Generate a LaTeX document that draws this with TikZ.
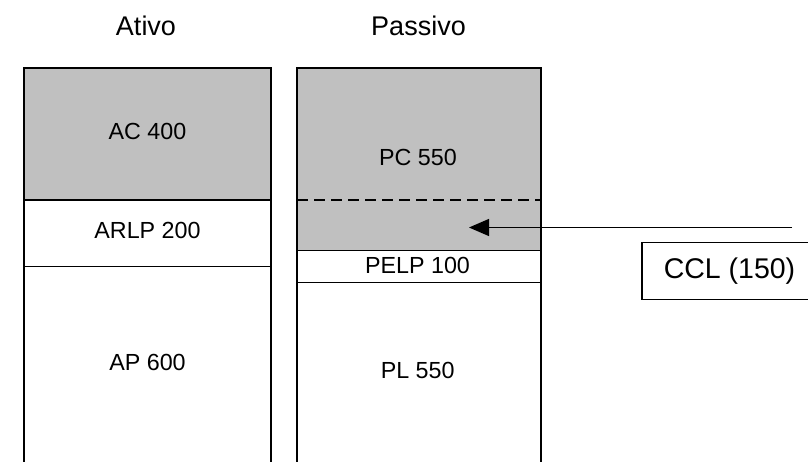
\documentclass[tikz,border=0pt]{standalone}
\usepackage{fontspec}
\setmainfont{Liberation Sans}
\usetikzlibrary{arrows.meta}
\definecolor{blockgrey}{HTML}{C0C0C0}
\begin{document}
\begin{tikzpicture}[x=1pt,y=-1pt,
  thin edge/.style={line width=1.3pt},
  lbl/.style={font=\fontsize{23.3}{28}\selectfont, inner sep=0pt, text=black, anchor=base},
  head/.style={font=\fontsize{27}{32}\selectfont, inner sep=0pt, text=black, anchor=base},
  big lbl/.style={font=\fontsize{28.5}{34}\selectfont, inner sep=0pt, text=black, anchor=base},
  sep line/.style={line width=1.3pt, dash pattern=on 11pt off 6pt},
  flow/.style={line width=1.2pt, -{Triangle[length=20pt,width=17pt]}}]
\useasboundingbox (0,0) rectangle (808,462);

% Ativo column
\fill[blockgrey] (24,68) rectangle (271,200);
\draw[thin edge] (24,462) -- (24,68) -- (271,68) -- (271,462);
\draw[thin edge] (24,200) -- (271,200);
\draw[thin edge] (24,266.7) -- (271,266.7);

% Passivo column
\fill[blockgrey] (297,68) rectangle (541,250.7);
\draw[thin edge] (297,462) -- (297,68) -- (541,68) -- (541,462);
\draw[sep line] (297,200) -- (541,200);
\draw[thin edge] (297,250.7) -- (541,250.7);
\draw[thin edge] (297,282.3) -- (541,282.3);

% Column headings (positions are baselines)
\node[head] (ativo) at (146,36) {Ativo};
\node[head] (passivo) at (418.5,36) {Passivo};

% Block labels
\node[lbl] (ac) at (147.5,140) {AC 400};
\node[lbl] (arlp) at (147.5,239) {ARLP 200};
\node[lbl] (ap) at (147.5,370) {AP 600};
\node[lbl] (pc) at (418,166) {PC 550};
\node[lbl] (pelp) at (417.5,273.3) {PELP 100};
\node[lbl] (pl) at (417.7,378.7) {PL 550};

% CCL box, open to the right
\draw[thin edge] (810,242.3) -- (642,242.3) -- (642,299.3) -- (810,299.3);
\node[big lbl] (ccl) at (729.5,278.3) {CCL (150)};

% Arrow into the working-capital band
\coordinate (cclfrom) at (792,227.5);
\coordinate (cclto) at (469,227.5);
\draw[flow] (cclfrom) -- (cclto);
\end{tikzpicture}
\end{document}
